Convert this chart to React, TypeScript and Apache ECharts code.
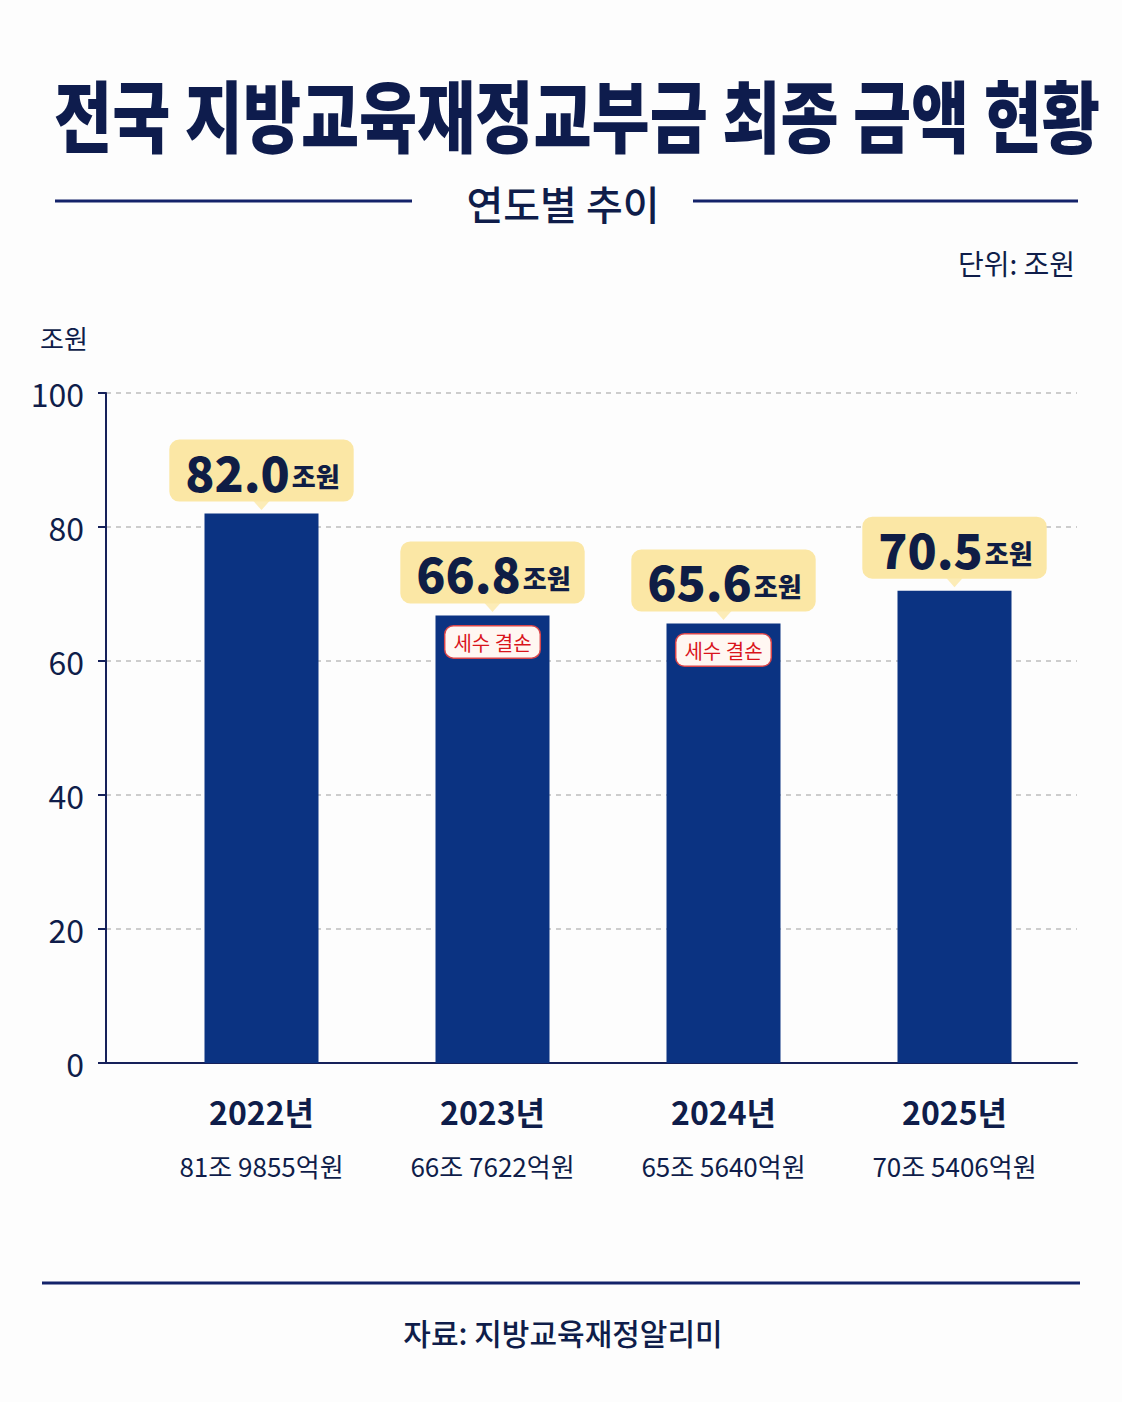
import React, { useEffect, useRef } from "react";
import * as echarts from "echarts";

const categories = ["2022년", "2023년", "2024년", "2025년"];
const details = ["81조 9855억원", "66조 7622억원", "65조 5640억원", "70조 5406억원"];
const values = [82.0, 66.8, 65.6, 70.5];
const tags = ["", "세수 결손", "세수 결손", ""];
const yTicks = [0, 20, 40, 60, 80, 100];

const FONT = "'Noto Sans CJK KR', 'Noto Sans', sans-serif";
const NAVY = "#0f1d4a";
const BAR = "#0b3382";
const YELLOW = "#fbe7a5";

export default function App() {
  const ref = useRef<HTMLDivElement>(null);
  useEffect(() => {
    if (!ref.current) return;
    const chart = echarts.init(ref.current, null, { renderer: "svg" });
    const option: any = {
      animation: false,
      backgroundColor: "#fdfdfd",
      textStyle: { fontFamily: FONT },
      grid: [
        { left: 106, right: 45, top: 393, bottom: 339 },
        { left: 146, right: 52, top: 393, bottom: 339 },
      ],
      xAxis: [
        {
          type: "value",
          gridIndex: 0,
          min: 0,
          max: 1,
          axisLine: { show: true, onZero: false, lineStyle: { color: "#16215a", width: 2 } },
          axisTick: { show: false },
          axisLabel: { show: false },
          splitLine: { show: false },
        },
        {
          type: "category",
          gridIndex: 1,
          data: categories,
          axisLine: { show: false },
          axisTick: { show: false },
          axisLabel: {
            margin: 20,
            formatter: (v: string, i: number) => `{y|${v}}\n{s|${details[i]}}`,
            rich: {
              y: { fontFamily: FONT, fontSize: 32, fontWeight: "bold", color: NAVY, lineHeight: 55 },
              s: { fontFamily: FONT, fontSize: 26, color: NAVY, lineHeight: 55 },
            },
          },
        },
      ],
      yAxis: [
        {
          type: "value",
          gridIndex: 0,
          min: yTicks[0],
          max: yTicks[yTicks.length - 1],
          interval: 20,
          axisLine: { show: true, lineStyle: { color: "#16215a", width: 2 } },
          axisTick: { show: true, length: 8, lineStyle: { color: "#16215a", width: 2 } },
          axisLabel: { fontFamily: FONT, fontSize: 32, color: NAVY, margin: 22 },
          splitLine: { show: true, lineStyle: { color: "#bdbdbd", width: 1.5, type: [5, 5] } },
        },
        {
          type: "value",
          gridIndex: 1,
          min: 0,
          max: 100,
          show: false,
          splitLine: { show: false },
        },
      ],
      series: [
        {
          type: "bar",
          xAxisIndex: 1,
          yAxisIndex: 1,
          data: values,
          barWidth: 114,
          itemStyle: { color: BAR },
          z: 3,
          label: {
            show: true,
            position: "top",
            distance: 12,
            backgroundColor: YELLOW,
            borderRadius: 10,
            padding: [5, 14, 5, 16],
            formatter: (p: any) => `{v|${p.value.toFixed(1)}}{u|조원}`,
            rich: {
              v: { fontFamily: FONT, fontSize: 48, fontWeight: 900, color: "#0f1d45", lineHeight: 52 },
              u: { fontFamily: FONT, fontSize: 26, fontWeight: 900, color: "#0f1d45", lineHeight: 52, padding: [10, 0, 0, 2] },
            },
          },
        },
        {
          type: "bar",
          xAxisIndex: 1,
          yAxisIndex: 1,
          barWidth: 114,
          barGap: "-100%",
          z: 4,
          itemStyle: { color: "rgba(0,0,0,0)" },
          data: values.map((v, i) => ({
            value: v,
            label: { show: tags[i] !== "" },
          })),
          label: {
            position: "insideTop",
            distance: 11,
            formatter: (p: any) => tags[p.dataIndex],
            fontFamily: FONT,
            fontSize: 20,
            color: "#d9141c",
            backgroundColor: "#fff7f2",
            borderColor: "#d9454a",
            borderWidth: 1.5,
            borderRadius: 8,
            padding: [6, 8, 5, 8],
          },
        },
        {
          type: "scatter",
          xAxisIndex: 1,
          yAxisIndex: 1,
          data: values,
          symbol: "path://M0,0 L20,0 L10,10 Z",
          symbolSize: [16, 9],
          symbolOffset: [0, -8],
          itemStyle: { color: YELLOW },
          z: 5,
          silent: true,
        },
      ],
      graphic: [
        {
          type: "text",
          x: 577,
          y: 113,
          scaleX: 0.81,
          style: {
            text: "전국 지방교육재정교부금 최종 금액 현황",
            font: `900 78px ${FONT}`,
            fill: "#0e1c4d",
            textAlign: "center",
            textVerticalAlign: "middle",
          },
        },
        { type: "line", shape: { x1: 55, y1: 201, x2: 412, y2: 201 }, style: { stroke: "#14236a", lineWidth: 3 } },
        { type: "line", shape: { x1: 693, y1: 201, x2: 1078, y2: 201 }, style: { stroke: "#14236a", lineWidth: 3 } },
        {
          type: "text",
          x: 563,
          y: 203,
          style: {
            text: "연도별 추이",
            font: `500 40px ${FONT}`,
            fill: NAVY,
            textAlign: "center",
            textVerticalAlign: "middle",
          },
        },
        {
          type: "text",
          x: 1075,
          y: 263,
          style: { text: "단위: 조원", font: `400 28px ${FONT}`, fill: NAVY, textAlign: "right", textVerticalAlign: "middle" },
        },
        {
          type: "text",
          x: 64,
          y: 337,
          style: { text: "조원", font: `400 26px ${FONT}`, fill: NAVY, textAlign: "center", textVerticalAlign: "middle" },
        },
        { type: "line", shape: { x1: 42, y1: 1283, x2: 1080, y2: 1283 }, style: { stroke: "#14236a", lineWidth: 3 } },
        {
          type: "text",
          x: 563,
          y: 1332,
          style: { text: "자료: 지방교육재정알리미", font: `500 30px ${FONT}`, fill: NAVY, textAlign: "center", textVerticalAlign: "middle" },
        },
      ],
    };
    chart.setOption(option);
    return () => chart.dispose();
  }, []);
  return <div ref={ref} style={{ position: "absolute", left: 0, top: 0, width: 1122, height: 1402 }} />;
}
